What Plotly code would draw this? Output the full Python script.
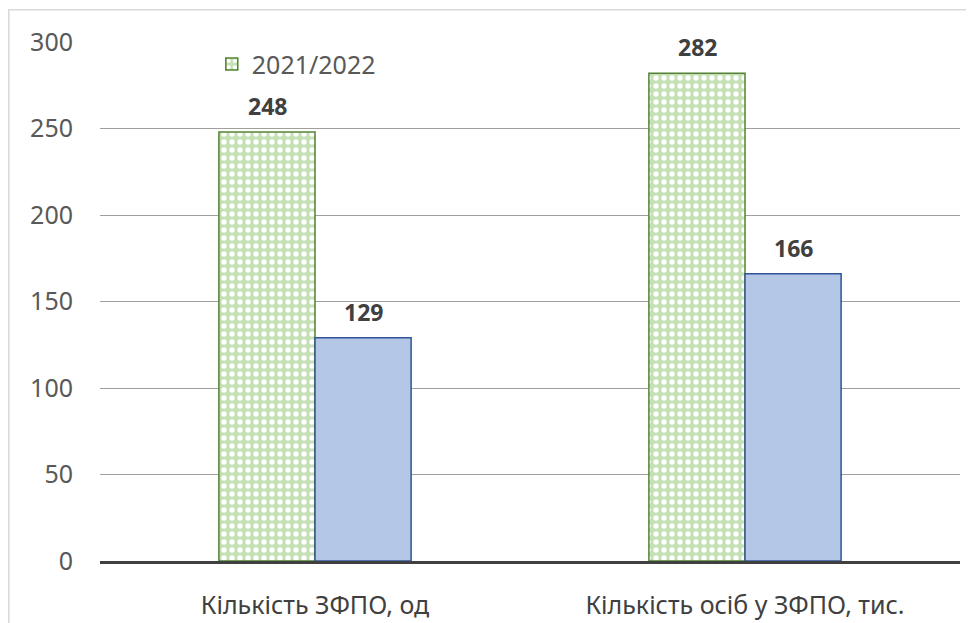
import plotly.graph_objects as go

categories = ["Кількість ЗФПО, од", "Кількість осіб у ЗФПО, тис."]
series_names = ["2021/2022", "2022/2023"]
values_2021 = [248, 282]
values_2022 = [129, 166]
y_ticks = [0, 50, 100, 150, 200, 250, 300]

font_family = "Noto Sans"

fig = go.Figure()

# first series: pattern fill, shown in legend
fig.add_trace(go.Bar(
    x=categories, y=values_2021, name=series_names[0],
    marker=dict(
        color="#c5e0b4",
        line=dict(color="#548235", width=1.5),
        pattern=dict(shape=".", fgcolor="#ffffff", bgcolor="#c5e0b4", size=8, solidity=0.35, fillmode="replace"),
    ),
    offsetgroup="a",
))

# second series: solid blue, not in legend
fig.add_trace(go.Bar(
    x=categories, y=values_2022, name=series_names[1],
    marker=dict(color="#b4c7e7", line=dict(color="#2f5597", width=1.5)),
    showlegend=False, offsetgroup="b",
))

# data labels above bars
for i, tr in enumerate([values_2021, values_2022]):
    for j, v in enumerate(tr):
        fig.add_annotation(
            x=categories[j], y=v, xref="x", yref="y",
            text=f"<b>{v}</b>", showarrow=False,
            xshift=-48 if i == 0 else 48, yshift=26,
            font=dict(family=font_family, size=23, color="#404040"),
        )

# chart outer border (cut off at right/bottom like the source)
fig.add_shape(type="rect", xref="paper", yref="paper",
              x0=-0.106, x1=1.2, y0=-0.3, y1=1.062,
              line=dict(color="#d9d9d9", width=1.5), fillcolor="rgba(0,0,0,0)", layer="below")

# page body has an 8px margin, so margins are shifted to compensate
fig.update_layout(
    width=974, height=623,
    margin=dict(l=92, r=22, t=34, b=70, autoexpand=False),
    plot_bgcolor="white", paper_bgcolor="white",
    barmode="group", bargap=0.553, bargroupgap=0,
    font=dict(family=font_family, size=21, color="#595959"),
    legend=dict(x=0.13, y=0.957, xanchor="left", yanchor="middle",
                bgcolor="rgba(0,0,0,0)", font=dict(size=25, color="#595959")),
    showlegend=True,
)
fig.update_yaxes(range=[0, 300], tickvals=y_ticks, showgrid=True, gridcolor="#a0a0a0", gridwidth=1,
                 zeroline=False, showline=False, ticks="", ticklabelstandoff=26, automargin=False,
                 tickfont=dict(size=25, color="#595959"))
fig.update_xaxes(showline=True, linecolor="#404040", linewidth=3, ticks="", automargin=False,
                 ticklabelstandoff=20, tickfont=dict(size=25, color="#404040"))

fig.write_html("out.html")
